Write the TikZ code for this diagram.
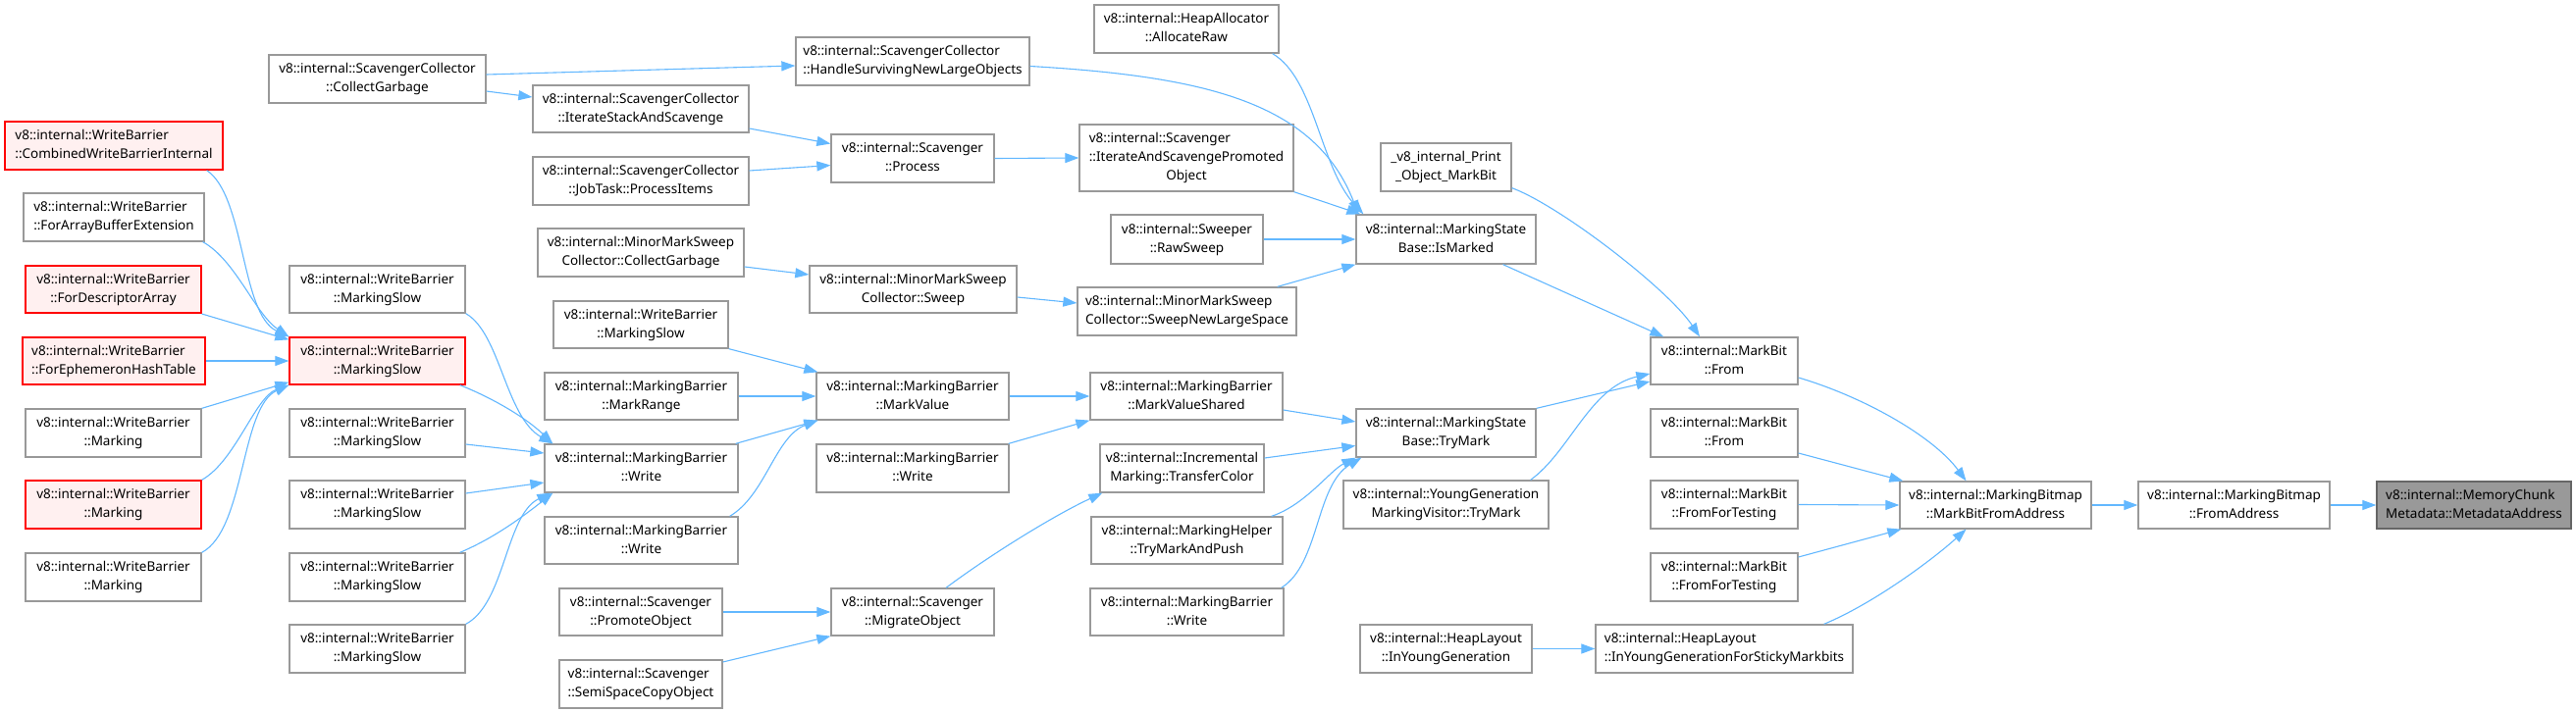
\documentclass[tikz,border=0pt]{standalone}
\usepackage{fontspec}
\setmainfont{Noto Sans}
\usetikzlibrary{arrows.meta}
\definecolor{edgec}{HTML}{63B8FF}
\definecolor{boxc}{HTML}{999999}
\definecolor{redc}{HTML}{FF0000}
\definecolor{redf}{HTML}{FFF0F0}
\definecolor{grayf}{HTML}{999999}
\definecolor{grayb}{HTML}{666666}
\newcommand{\dglbl}[2]{\begin{tabular}{@{}l@{}}#1\\\multicolumn{1}{@{}c@{}}{#2}\end{tabular}}
\newcommand{\dglblc}[3]{\begin{tabular}{@{}l@{}}#1\\#2\\\multicolumn{1}{@{}c@{}}{#3}\end{tabular}}
\newcommand{\dgnode}[7]{\node[#6, minimum width={(#4-#2)*1pt}, minimum height={(#5-#3)*1pt}] (#1) at ({(#2+#4)/2},{(#3+#5)/2}) {#7};}
\tikzset{
  box/.style={draw=boxc, fill=white, line width=1.3pt, inner sep=0pt, font=\fontsize{13.5}{19}\selectfont},
  redbox/.style={box, draw=redc, fill=redf},
  graybox/.style={box, draw=grayb, fill=grayf},
  edge/.style={draw=edgec, line width=1.1pt, -{Triangle[length=14pt,width=10pt]}}
}
\begin{document}
\begin{tikzpicture}[x=1pt,y=-1pt]
\fill[white] (0,0) rectangle (2625,727);
\useasboundingbox (0,0) rectangle (2625,727);
% nodes
\dgnode{cg}{274}{56}{495}{105}{box}{\dglbl{v8::internal::ScavengerCollector}{::CollectGarbage}}
\dgnode{hs}{811}{38}{1049}{87}{box}{\dglbl{v8::internal::ScavengerCollector}{::HandleSurvivingNewLargeObjects}}
\dgnode{isas}{543}{87}{763}{135}{box}{\dglbl{v8::internal::ScavengerCollector}{::IterateStackAndScavenge}}
\dgnode{pi}{543}{160}{763}{209}{box}{\dglbl{v8::internal::ScavengerCollector}{::JobTask::ProcessItems}}
\dgnode{proc}{847}{137}{1013}{186}{box}{\dglbl{v8::internal::Scavenger}{::Process}}
\dgnode{iaspo}{1100}{127}{1318}{195}{box}{\dglblc{v8::internal::Scavenger}{::IterateAndScavengePromoted}{Object}}
\dgnode{alloc}{1115}{5}{1303}{54}{box}{\dglbl{v8::internal::HeapAllocator}{::AllocateRaw}}
\dgnode{raw}{1132}{219}{1287}{269}{box}{\dglbl{v8::internal::Sweeper}{::RawSweep}}
\dgnode{ism}{1382}{219}{1565}{269}{box}{\dglbl{v8::internal::MarkingState}{Base::IsMarked}}
\dgnode{mmscg}{548}{233}{758}{282}{box}{\dglbl{v8::internal::MinorMarkSweep}{Collector::CollectGarbage}}
\dgnode{sweep}{825}{271}{1036}{319}{box}{\dglbl{v8::internal::MinorMarkSweep}{Collector::Sweep}}
\dgnode{snls}{1098}{293}{1321}{342}{box}{\dglbl{v8::internal::MinorMarkSweep}{Collector::SweepNewLargeSpace}}
\dgnode{print}{1407}{146}{1540}{195}{box}{\dglbl{\_v8\_internal\_Print}{\_Object\_MarkBit}}
\dgnode{from1}{1682}{344}{1832}{392}{box}{\dglbl{v8::internal::MarkBit}{::From}}
\dgnode{from2}{1682}{417}{1832}{466}{box}{\dglbl{v8::internal::MarkBit}{::From}}
\dgnode{trym}{1382}{417}{1565}{466}{box}{\dglbl{v8::internal::MarkingState}{Base::TryMark}}
\dgnode{wbms3}{564}{307}{742}{355}{box}{\dglbl{v8::internal::WriteBarrier}{::MarkingSlow}}
\dgnode{mr}{555}{380}{752}{428}{box}{\dglbl{v8::internal::MarkingBarrier}{::MarkRange}}
\dgnode{mv}{832}{380}{1028}{428}{box}{\dglbl{v8::internal::MarkingBarrier}{::MarkValue}}
\dgnode{mvs}{1111}{380}{1307}{428}{box}{\dglbl{v8::internal::MarkingBarrier}{::MarkValueShared}}
\dgnode{mbw1}{555}{453}{752}{502}{box}{\dglbl{v8::internal::MarkingBarrier}{::Write}}
\dgnode{mbw2}{832}{453}{1028}{502}{box}{\dglbl{v8::internal::MarkingBarrier}{::Write}}
\dgnode{tc}{1121}{453}{1288}{502}{box}{\dglbl{v8::internal::Incremental}{Marking::TransferColor}}
\dgnode{mbw3}{555}{527}{752}{575}{box}{\dglbl{v8::internal::MarkingBarrier}{::Write}}
\dgnode{tmap}{1112}{527}{1307}{575}{box}{\dglbl{v8::internal::MarkingHelper}{::TryMarkAndPush}}
\dgnode{ygmv}{1369}{490}{1578}{539}{box}{\dglbl{v8::internal::YoungGeneration}{MarkingVisitor::TryMark}}
\dgnode{fft1}{1682}{490}{1832}{539}{box}{\dglbl{v8::internal::MarkBit}{::FromForTesting}}
\dgnode{fft2}{1682}{564}{1832}{613}{box}{\dglbl{v8::internal::MarkBit}{::FromForTesting}}
\dgnode{promo}{570}{600}{736}{648}{box}{\dglbl{v8::internal::Scavenger}{::PromoteObject}}
\dgnode{migr}{847}{600}{1013}{648}{box}{\dglbl{v8::internal::Scavenger}{::MigrateObject}}
\dgnode{mbw4}{1111}{600}{1308}{648}{box}{\dglbl{v8::internal::MarkingBarrier}{::Write}}
\dgnode{ssco}{570}{673}{736}{722}{box}{\dglbl{v8::internal::Scavenger}{::SemiSpaceCopyObject}}
\dgnode{iyg}{1386}{637}{1561}{686}{box}{\dglbl{v8::internal::HeapLayout}{::InYoungGeneration}}
\dgnode{iygs}{1626}{637}{1888}{686}{box}{\dglbl{v8::internal::HeapLayout}{::InYoungGenerationForStickyMarkbits}}
\dgnode{mbfa}{1936}{491}{2131}{539}{box}{\dglbl{v8::internal::MarkingBitmap}{::MarkBitFromAddress}}
\dgnode{fa}{2179}{491}{2374}{539}{box}{\dglbl{v8::internal::MarkingBitmap}{::FromAddress}}
\dgnode{ma}{2422}{491}{2620}{539}{graybox}{\dglbl{v8::internal::MemoryChunk}{Metadata::MetadataAddress}}
\dgnode{cwbi}{5}{124}{227}{173}{redbox}{\dglbl{v8::internal::WriteBarrier}{::CombinedWriteBarrierInternal}}
\dgnode{fabe}{24}{197}{208}{246}{box}{\dglbl{v8::internal::WriteBarrier}{::ForArrayBufferExtension}}
\dgnode{fda}{26}{271}{205}{319}{redbox}{\dglbl{v8::internal::WriteBarrier}{::ForDescriptorArray}}
\dgnode{feht}{23}{344}{209}{392}{redbox}{\dglbl{v8::internal::WriteBarrier}{::ForEphemeronHashTable}}
\dgnode{wbm1}{26}{417}{205}{466}{box}{\dglbl{v8::internal::WriteBarrier}{::Marking}}
\dgnode{wbm2}{26}{490}{205}{539}{redbox}{\dglbl{v8::internal::WriteBarrier}{::Marking}}
\dgnode{wbm3}{26}{564}{205}{613}{box}{\dglbl{v8::internal::WriteBarrier}{::Marking}}
\dgnode{ms1}{295}{271}{474}{319}{box}{\dglbl{v8::internal::WriteBarrier}{::MarkingSlow}}
\dgnode{msred}{295}{344}{474}{392}{redbox}{\dglbl{v8::internal::WriteBarrier}{::MarkingSlow}}
\dgnode{ms2}{295}{417}{474}{466}{box}{\dglbl{v8::internal::WriteBarrier}{::MarkingSlow}}
\dgnode{ms3}{295}{490}{474}{539}{box}{\dglbl{v8::internal::WriteBarrier}{::MarkingSlow}}
\dgnode{ms4}{295}{564}{474}{613}{box}{\dglbl{v8::internal::WriteBarrier}{::MarkingSlow}}
\dgnode{ms5}{295}{637}{474}{686}{box}{\dglbl{v8::internal::WriteBarrier}{::MarkingSlow}}
% edges
\draw[edge] ([shift={(0,-4.5)}]cg.east) -- ([shift={(0,4.5)}]hs.west);
\draw[edge] ([shift={(0,12.5)}]cg.east) -- ([shift={(0,-12)}]isas.west);
\draw[edge] ([shift={(0,20)}]isas.east) -- ([shift={(0,-15)}]proc.west);
\draw[edge] ([shift={(0,-10.5)}]pi.east) -- ([shift={(0,7)}]proc.west);
\draw[edge] (proc.east) -- (iaspo.west);
\draw[edge] ([shift={(0,5)}]hs.east) .. controls (1230,78) and (1340,105) .. ([shift={(3,0)}]ism.north west);
\draw[edge] ([shift={(-7,0)}]alloc.south east) .. controls (1340,80) and (1345,170) .. ([shift={(8,0)}]ism.north west);
\draw[edge] (iaspo.south east) -- ([shift={(5,0)}]ism.north west);
\draw[edge] (raw.east) -- (ism.west);
\draw[edge] ([shift={(-20,0)}]snls.north east) -- (ism.south west);
\draw[edge] ([shift={(0,14.5)}]mmscg.east) -- ([shift={(0,-15)}]sweep.west);
\draw[edge] ([shift={(0,8)}]sweep.east) -- ([shift={(0,-8.5)}]snls.west);
\draw[edge] ([shift={(0,-4)}]print.south east) .. controls (1590,210) and (1700,295) .. ([shift={(-25,0)}]from1.north);
\draw[edge] ([shift={(58,0)}]ism.south) -- ([shift={(14,0)}]from1.north west);
\draw[edge] (trym.north east) -- ([shift={(0,21)}]from1.west);
\draw[edge] ([shift={(-19,0)}]ygmv.north east) .. controls (1600,460) and (1620,395) .. ([shift={(0,13)}]from1.west);
\draw[edge] ([shift={(0,17)}]from1.east) .. controls (1900,405) and (1970,445) .. ([shift={(-30,0)}]mbfa.north);
\draw[edge] ([shift={(0,20.5)}]from2.east) -- ([shift={(4,0)}]mbfa.north west);
\draw[edge] (fft1.east) -- (mbfa.west);
\draw[edge] ([shift={(0,-20.5)}]fft2.east) -- ([shift={(2,0)}]mbfa.south west);
\draw[edge] ([shift={(-30,0)}]iygs.north east) .. controls (1910,615) and (1970,570) .. ([shift={(-30,0)}]mbfa.south);
\draw[edge] (iyg.east) -- (iygs.west);
\draw[edge] (mbfa.east) -- (fa.west);
\draw[edge] (fa.east) -- (ma.west);
\draw[edge] ([shift={(0,14)}]mvs.east) -- ([shift={(0,-11.5)}]trym.west);
\draw[edge] ([shift={(0,-10.5)}]tc.east) -- ([shift={(0,13)}]trym.west);
\draw[edge] ([shift={(-12,0)}]tmap.north east) .. controls (1330,515) and (1355,480) .. (trym.south west);
\draw[edge] ([shift={(-3,0)}]mbw4.north east) .. controls (1345,575) and (1340,495) .. ([shift={(6,0)}]trym.south west);
\draw[edge] (mv.east) -- (mvs.west);
\draw[edge] ([shift={(-1,0)}]mbw2.north east) -- (mvs.south west);
\draw[edge] ([shift={(34,0)}]migr.north) .. controls (1010,565) and (1075,525) .. ([shift={(3,0)}]tc.south west);
\draw[edge] (promo.east) -- (migr.west);
\draw[edge] ([shift={(0,-22.5)}]ssco.east) -- (migr.south west);
\draw[edge] (wbms3.south east) -- ([shift={(2,0)}]mv.north west);
\draw[edge] (mr.east) -- (mv.west);
\draw[edge] ([shift={(-3,0)}]mbw1.north east) -- ([shift={(2,0)}]mv.south west);
\draw[edge] ([shift={(-9,0)}]mbw3.north east) .. controls (780,505) and (790,445) .. ([shift={(2,0)}]mv.south west);
\draw[edge] (ms1.south east) .. controls (510,340) and (515,425) .. ([shift={(9,0)}]mbw1.north west);
\draw[edge] ([shift={(-6,0)}]msred.south east) .. controls (500,405) and (535,425) .. ([shift={(9,0)}]mbw1.north west);
\draw[edge] ([shift={(0,11.5)}]ms2.east) -- ([shift={(0,-15.5)}]mbw1.west);
\draw[edge] ([shift={(0,-11.5)}]ms3.east) -- ([shift={(0,14.5)}]mbw1.west);
\draw[edge] ([shift={(-6,0)}]ms4.north east) .. controls (505,548) and (535,525) .. ([shift={(9,0)}]mbw1.south west);
\draw[edge] (ms5.north east) .. controls (515,615) and (515,525) .. ([shift={(7,0)}]mbw1.south west);
\draw[edge] ([shift={(-17,0)}]cwbi.south east) .. controls (250,200) and (245,320) .. (msred.north west);
\draw[edge] ([shift={(-2,0)}]fabe.south east) .. controls (240,265) and (260,320) .. (msred.north west);
\draw[edge] ([shift={(0,25)}]fda.east) -- ([shift={(0,3)}]msred.north west);
\draw[edge] (feht.east) -- (msred.west);
\draw[edge] (wbm1.north east) -- ([shift={(0,-3)}]msred.south west);
\draw[edge] (wbm2.north east) .. controls (240,470) and (260,405) .. (msred.south west);
\draw[edge] (wbm3.north east) .. controls (250,540) and (245,415) .. (msred.south west);
\end{tikzpicture}
\end{document}
